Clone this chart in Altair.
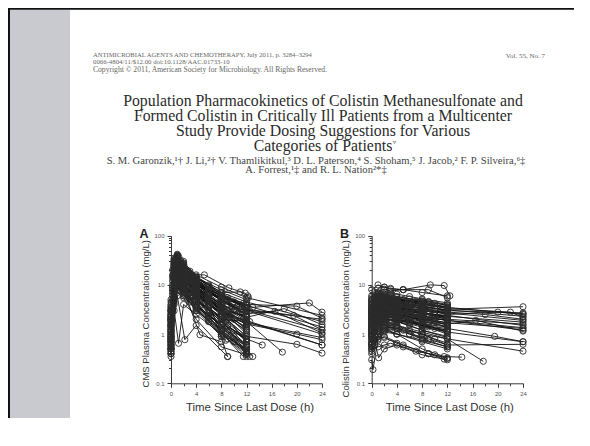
import altair as alt
import pandas as pd

W, H = 566, 410

# ---------------- text content ----------------
journal_line = "ANTIMICROBIAL AGENTS AND CHEMOTHERAPY, July 2011, p. 3284–3294"
issn_line = "0066-4804/11/$12.00    doi:10.1128/AAC.01733-10"
copyright_line = "Copyright © 2011, American Society for Microbiology. All Rights Reserved."
volume_text = "Vol. 55, No. 7"
title_text = ("Population Pharmacokinetics of Colistin Methanesulfonate and\n"
              "Formed Colistin in Critically Ill Patients from a Multicenter\n"
              "Study Provide Dosing Suggestions for Various\n"
              "Categories of Patients")
title_mark = "▿"
author_line1 = "S. M. Garonzik,¹† J. Li,²† V. Thamlikitkul,³ D. L. Paterson,⁴ S. Shoham,⁵ J. Jacob,² F. P. Silveira,⁶‡"
author_line2 = "A. Forrest,¹‡ and R. L. Nation²*‡"
panel_letters = ["A", "B"]
y_titles = ["CMS Plasma Concentration (mg/L)", "Colistin Plasma Concentration (mg/L)"]
x_title = "Time Since Last Dose (h)"

# ---------------- axis ticks ----------------
y_tick_values = [0.1, 0.2, 0.3, 0.4, 0.5, 0.6, 0.7, 0.8, 0.9,
                 1, 2, 3, 4, 5, 6, 7, 8, 9,
                 10, 20, 30, 40, 50, 60, 70, 80, 90, 100]
x_tick_values = [0, 2, 4, 6, 8, 10, 12, 14, 16, 18, 20, 22, 24]

# ---------------- data: (time h, concentration mg/L) per patient ----------------
cms_profiles = [
    [(0, 1.2), (0.5, 18), (1, 35), (2, 22), (4, 12), (8, 5), (12, 2.5)],
    [(0, 0.8), (0.5, 25), (1, 40), (1.5, 30), (3, 15), (6, 6), (9, 3), (12, 1.5)],
    [(0, 0.4), (0.3, 8), (1, 28), (2, 16), (4, 8), (8, 2.5), (12, 0.9)],
    [(0, 2.5), (0.5, 30), (1.2, 38), (2.5, 20), (3.3, 16), (5.3, 16), (9.2, 8.7), (11.8, 6.8), (12.3, 5.5)],
    [(0, 1.5), (0.5, 12), (1, 20), (2, 14), (4, 9), (8, 4), (12, 2)],
    [(0, 0.6), (1, 15), (2, 10), (4, 5), (8, 1.8), (12, 0.6)],
    [(0, 3), (0.5, 22), (1, 30), (2, 25), (3, 16), (6, 10), (9, 5), (12, 3.5)],
    [(0, 0.45), (0.5, 3), (1.2, 0.65), (2, 4), (4, 2.5), (8, 1.0), (12, 0.5)],
    [(0, 0.6), (1, 6), (2.2, 0.77), (4, 1.5), (9, 0.35)],
    [(0, 4), (0.5, 35), (1, 42), (2, 30), (4, 14), (8, 7), (12, 4.5), (24, 1.8)],
    [(0, 2), (0.3, 15), (1, 24), (2, 18), (4, 10), (8, 5), (12.5, 3), (24, 1.2)],
    [(0, 1.8), (0.5, 20), (1, 32), (2, 20), (4, 12), (8, 6), (12, 4), (20, 3.7), (24, 2.1)],
    [(0, 1.5), (1, 28), (2, 18), (4, 10), (8, 5.5), (13, 3.5), (22, 4.3), (24, 2.8)],
    [(0, 0.9), (1, 22), (2, 15), (4, 8), (9, 3), (12, 2.2), (18, 3.3), (24, 1.55)],
    [(0, 0.7), (0.5, 14), (1, 18), (2, 12), (5, 6), (9, 2.5), (12.5, 1.8), (24, 0.6)],
    [(0, 0.5), (1, 12), (2, 9), (4, 5), (8, 2), (12, 1.8), (17.7, 0.43)],
    [(0, 0.4), (1, 10), (2, 7), (4, 4), (8, 1.5), (12, 0.8), (14.5, 0.6)],
    [(0, 1.1), (1, 25), (2, 17), (4, 9), (8, 4), (12, 2.6), (16.5, 2.9), (24, 1.05)],
    [(0, 2.2), (0.5, 28), (1, 36), (2, 24), (4, 13), (8, 6), (12, 3.2), (19.5, 2.4), (24, 1.22)],
    [(0, 0.8), (1, 16), (2, 11), (4, 6), (8, 2.8), (12, 1.6), (20, 1.0), (24, 0.77)],
    [(0, 0.5), (1, 9), (2, 6), (4, 3.5), (8, 1.6), (12, 0.9), (20, 0.62), (24, 0.41)],
    [(0, 1.3), (0.5, 16), (1, 26), (2, 19), (4, 11), (8, 5), (11, 3.2), (24, 2.0)],
    [(0, 0.35), (0.5, 6), (1, 13), (2, 8), (4, 3.5), (8.5, 0.9), (11.5, 0.35)],
    [(0, 0.7), (0.5, 20), (1, 26), (2, 17), (4, 8), (6, 4.5), (9, 0.35)],
    [(0, 1.0), (1, 19), (2, 13), (3, 8), (5, 4), (8, 2), (12.5, 0.35)],
    [(0, 0.9), (0.5, 14), (1, 21), (2, 14), (4, 6), (8, 1.5), (12, 0.4)],
    [(0, 1.6), (0.5, 24), (1, 33), (2, 20), (4, 9), (8, 3.5), (12, 1.2)],
    [(0, 2.8), (0.5, 27), (1, 31), (2, 21), (4, 11), (8, 6), (11.5, 4.2)],
    [(0, 3.5), (0.5, 26), (1, 37), (2, 26), (4, 15), (8, 7), (11, 7.2), (12.2, 6)],
    [(0, 0.5), (0.5, 10), (1, 17), (2, 12), (4.5, 4.5), (8, 1.3), (12, 0.55)],
    [(0, 1.2), (1, 11), (2, 8), (4.6, 0.97), (8, 0.7)],
    [(0, 0.55), (0.5, 4), (1, 7), (2, 5.5), (4, 2), (8, 0.55), (12, 0.38)],
    [(0, 2), (0.5, 16), (1, 23), (2, 16), (4, 8.5), (6, 5.5), (8, 3.5)],
    [(0, 1.4), (0.5, 12), (1, 18), (2, 11), (4, 5), (8, 1.8)],
    [(0, 0.9), (0.5, 8), (1, 11), (2, 7), (4, 3), (8, 0.9)],
    [(0, 3.2), (0.5, 20), (1, 29), (2, 19), (4, 10), (8, 5.5), (8.8, 4.8)],
    [(0, 2.2), (0.5, 30), (1, 33), (2, 23), (3, 14), (5, 7), (9, 2.4), (12, 1.0)],
    [(0, 0.65), (0.3, 4), (1, 9), (2, 6), (4, 3), (8, 1.2), (12, 0.5), (13, 0.35)],
    [(0, 1.7), (1, 24), (2, 15), (4, 7), (9, 2), (12, 0.7)],
    [(0, 0.45), (0.5, 7), (1, 12), (1.5, 10), (3, 5), (6, 2.2), (9, 0.8), (12, 0.35)],
    [(0, 2.6), (0.5, 33), (1, 39), (2, 27), (4, 13), (8, 5), (12, 2.2)],
    [(0, 1.9), (0.5, 21), (1, 27), (2, 18), (4, 10), (9, 4), (12, 2.4)],
    [(0, 1.1), (0.5, 11), (1, 16), (2, 13), (4, 7), (8, 3), (12, 1.1)],
    [(0, 0.75), (0.5, 5), (1, 8), (2, 9), (4, 5), (8, 2.2), (12, 0.8)],
    [(0, 3.8), (0.5, 24), (1, 28), (2, 22), (4, 14), (8, 8), (12, 5)],
    [(0, 2.4), (0.5, 13), (1, 19), (2, 15), (3, 12), (6, 7), (9, 4), (12, 2.9)],
    [(0, 5), (0.5, 30), (1, 40), (2, 28), (4, 16), (8, 9), (12, 5.5), (24, 2.4)],
    [(0, 1.0), (0.25, 12), (0.5, 24), (0.75, 30), (1, 28), (1.5, 22), (2, 18), (3, 12), (4, 8.5), (6, 5), (8, 3), (10, 2), (12, 1.3)],
    [(0, 2.0), (0.25, 16), (0.5, 28), (0.75, 34), (1, 31), (1.5, 25), (2, 20), (3, 14), (4, 10), (6, 6.5), (8, 4.2), (10, 2.8), (12, 2.0)],
    [(0, 0.5), (0.25, 5), (0.5, 11), (0.75, 15), (1, 14), (1.5, 11), (2, 9), (3, 6), (4, 4), (6, 2.2), (8, 1.2), (10, 0.7), (12, 0.45)],
    [(0, 3), (0.25, 14), (0.5, 22), (1, 26), (1.5, 23), (2, 19), (3, 15), (4, 12), (6, 8), (8, 6), (10, 4.5), (12, 3.4)],
    [(0, 0.8), (0.25, 7), (0.5, 16), (1, 20), (1.5, 16), (2, 12), (3, 7.5), (4, 5), (6, 2.6), (8, 1.5), (10, 0.9), (12, 0.55)],
    [(0, 1.4), (0.5, 19), (0.75, 26), (1, 25), (1.5, 20), (2, 16), (3, 11), (4, 7.5), (6, 4), (8, 2.4), (12, 0.9)],
    [(0, 0.6), (0.25, 3), (0.5, 8), (1, 12), (1.5, 10), (2, 8), (3, 5.5), (4, 4), (6, 2.4), (9, 1.1), (12, 0.6)],
    [(0, 2.5), (0.5, 21), (1, 29), (1.5, 27), (2, 22), (3, 17), (4, 13), (6, 9), (9, 5.5), (12, 3.5)],
    [(0, 1.8), (0.25, 9), (0.5, 17), (1, 22), (2, 15), (3, 10), (4, 7), (6, 4), (8, 2.6), (12, 1.4)],
    [(0, 4.5), (0.25, 20), (0.5, 32), (1, 38), (1.5, 32), (2, 26), (3, 19), (4, 14), (6, 9.5), (8, 6.5), (12, 4)],
    [(0, 0.4), (0.5, 4.5), (1, 9), (1.5, 8), (2, 6.5), (3, 4.5), (4, 3.2), (6, 1.8), (8, 1.0), (12, 0.4)],
    [(0, 1.2), (0.25, 8), (0.5, 15), (1, 19), (2, 14), (3, 10), (4, 7), (6, 4.5), (8, 3), (12, 1.6)],
    [(0, 2.2), (0.5, 14), (1, 18), (2, 15), (3, 12), (4, 9), (6, 6), (8, 4), (10, 3), (12, 2.2)],
    [(0, 0.7), (0.25, 6), (0.5, 13), (1, 17), (1.5, 14), (2, 11), (3, 7), (4, 5), (6, 3), (9, 1.4), (12, 0.8)],
    [(0, 1.6), (0.5, 26), (1, 30), (2, 20), (3, 13), (4, 9), (6, 5), (8, 3.2), (9, 2.6)],
    [(0, 0.9), (0.5, 9), (1, 13), (2, 10), (3, 7), (4, 5.5), (6, 3.5), (8, 2.2), (8.8, 1.9)],
    [(0, 3.5), (0.5, 18), (1, 24), (2, 19), (3, 14), (4, 11), (6, 7), (8, 5), (8.5, 4.6)],
    [(0, 0.5), (0.5, 6), (1, 10), (2, 7.5), (3, 5), (4, 3.4), (6, 1.8), (8, 0.9), (8.7, 0.75)],
    [(0, 1.3), (0.5, 10), (1, 14), (2, 12), (3, 9), (4, 6.5), (6, 4), (8, 2.6), (9, 2.1), (12, 1.2)],
    [(0, 2.9), (0.5, 23), (1, 27), (2, 20), (3, 15), (4, 11), (6, 7.5), (8, 5), (12, 2.6)],
    [(0, 0.65), (0.5, 11), (1, 16), (2, 11), (3, 7), (4, 4.5), (6, 2.3), (8, 1.2), (12, 0.45)],
    [(0, 1.9), (0.25, 10), (0.5, 20), (1, 25), (2, 19), (3, 13), (4, 9.5), (6, 6), (8, 3.8), (11.5, 2.0)],
    [(0, 0.85), (0.5, 13), (1, 22), (1.5, 19), (2, 15), (3, 10), (4, 6.5), (6, 3.5), (8, 2), (12, 0.7)],
    [(0, 1.1), (0.5, 7), (1, 10), (2, 8.5), (3, 7), (4, 5.8), (6, 4), (8, 3), (12, 1.8), (24, 0.6)],
    [(0, 2.3), (0.5, 17), (1, 21), (2, 17), (3, 13), (4, 10), (6, 7), (8, 5), (12, 3), (24, 1.0)],
    [(0, 0.55), (0.5, 9), (1, 14), (2, 9), (3, 6), (4, 4), (6, 2), (8, 1.1), (12, 0.42)],
    [(0, 1.5), (0.5, 15), (1, 19), (2, 14), (4, 8), (6, 5), (8, 3.3), (12, 1.7), (24, 0.85)],
    [(0, 3.1), (0.5, 15), (1, 22), (2, 18), (4, 11), (6, 8), (9, 5), (12, 3.8), (24, 1.4)],
    [(0, 0.75), (0.25, 3.5), (0.5, 7), (1, 10), (2, 7.5), (4, 4), (6, 2.4), (8, 1.5), (12, 0.6)],
    [(0, 1.0), (0.5, 17), (1, 24), (2, 16), (4, 7), (6, 3.6), (9, 1.5), (12, 0.75)],
    [(0, 2.0), (0.5, 11), (1, 15), (2, 12), (4, 7.5), (6, 5), (9, 3), (12, 2.3)],
]

colistin_profiles = [
    [(0, 8.0), (1, 10), (2, 9), (3, 8.2), (5, 8.0), (9.3, 10), (11.5, 9.7), (12.4, 6.0)],
    [(0, 5), (1, 7), (2, 8.2), (3, 7.5), (5, 8), (9, 8), (12, 5.5)],
    [(0, 2), (0.5, 2.5), (1, 3.5), (2, 4), (4, 3.5), (8, 2.8), (12, 2.2)],
    [(0, 1.2), (0.5, 1.8), (1, 2.5), (2, 2.8), (4, 2.2), (8, 1.6), (12, 1.1)],
    [(0, 0.3), (0.2, 0.19), (1, 0.8), (2, 1.2), (4, 1), (8, 0.7), (12, 0.5)],
    [(0, 0.6), (0.5, 1.5), (1, 2.2), (2, 2.5), (4, 2), (8, 1.5), (12, 1.0)],
    [(0, 3), (0.5, 4), (1, 5), (2, 5.5), (4, 5), (8, 4.5), (12, 3.5), (24, 2.5)],
    [(0, 2.5), (1, 3), (2, 3.2), (4, 2.8), (8, 2.4), (12, 3.2), (24, 3.6)],
    [(0, 1.5), (1, 2), (2, 2.4), (4, 2.6), (8, 2.0), (12, 2.0), (24, 1.6)],
    [(0, 1.0), (1, 1.5), (2, 1.7), (4, 1.5), (8, 1.1), (12, 0.8), (17.7, 0.28)],
    [(0, 0.9), (1, 1.2), (2, 1.3), (4, 1.0), (8, 0.5), (11.5, 0.35), (14.3, 0.34)],
    [(0, 0.7), (1, 0.9), (2, 0.85), (4, 0.65), (9, 0.4), (11.5, 0.31)],
    [(0, 1.3), (1.1, 0.33), (2, 0.5), (4, 0.6), (8, 0.38), (12, 0.3)],
    [(0, 4.5), (0.5, 5.5), (1, 6.5), (2, 6), (4, 5.5), (8, 5), (12, 4)],
    [(0, 2.2), (0.5, 3), (1, 4), (2, 4.6), (4, 4), (8, 3.2), (12, 2.5), (20, 2.8), (24, 2.6)],
    [(0, 1.7), (1, 2.2), (2, 2.6), (4, 2.4), (8, 2), (12, 1.7), (24, 1.3)],
    [(0, 3.5), (1, 4.5), (2, 5), (4, 4.8), (8, 4), (12, 3.3), (22, 2.8), (24, 2.2)],
    [(0, 1.1), (1, 1.6), (2, 2), (4, 1.9), (8, 1.5), (12, 1.3), (19.5, 0.9), (24, 0.7)],
    [(0, 0.8), (1, 1.1), (2, 1.4), (4, 1.3), (8, 1.0), (12, 0.8), (24, 0.45)],
    [(0, 2.8), (1, 3.8), (2, 4.2), (4, 4.0), (8, 3.4), (12, 2.8), (18, 2.5), (24, 2.0)],
    [(0, 1.4), (1, 2.0), (2, 2.2), (4, 2.3), (8, 1.8), (12, 1.6), (16.5, 1.9), (24, 1.15)],
    [(0, 2.0), (1, 2.8), (3, 3.0), (5, 3.2), (9, 2.6), (12, 2.4), (24, 1.5)],
    [(0, 0.5), (0.5, 0.9), (1, 1.3), (2, 1.6), (4, 1.4), (8, 1.0), (12, 0.6), (24, 0.62)],
    [(0, 6), (0.5, 7), (1, 8.5), (2, 9), (3, 8.5), (5, 8), (8, 7), (12, 6)],
    [(0, 1.6), (0.5, 2.8), (1, 3.8), (2, 4.2), (4, 3.8), (6, 3.0), (8, 2.5)],
    [(0, 0.9), (0.5, 2), (1, 2.6), (2, 2.9), (4, 2.5), (8, 1.9)],
    [(0, 3.2), (0.5, 4.2), (1, 5.2), (2, 5.6), (4, 5), (8, 4.2), (12, 3.6)],
    [(0, 2.4), (0.5, 3.5), (1, 4.4), (2, 4.0), (5, 3.4), (9, 2.9), (12, 2.6)],
    [(0, 1.2), (0.5, 2.0), (1, 2.4), (3, 2.6), (5, 2.2), (9, 1.4), (12, 1.2)],
    [(0, 0.6), (0.5, 1.0), (1, 1.8), (2, 2.1), (4, 1.8), (8, 1.2), (12, 0.85)],
    [(0, 4), (1, 5.5), (2, 6), (3, 5.8), (5, 5), (9, 4.6), (12, 3.8)],
    [(0, 1.9), (0.5, 2.4), (1, 3.2), (2, 3.6), (4, 3.2), (8, 2.6), (12, 2.0)],
    [(0, 0.45), (0.5, 0.6), (1, 1.0), (2, 1.1), (4, 1.0), (8, 0.75), (12, 0.55)],
    [(0, 2.6), (1, 3.4), (2, 3.9), (4, 3.7), (8, 3.0), (12, 2.7), (24, 1.9)],
    [(0, 1.0), (0.5, 1.4), (1, 1.9), (2, 2.3), (4, 2.0), (8, 1.6), (12, 1.4)],
    [(0, 3.8), (0.5, 4.8), (1, 5.8), (2, 5.0), (4, 4.5), (8, 3.8), (12, 3.0), (24, 2.7)],
    [(0, 0.65), (1, 0.75), (2, 0.9), (5, 0.6), (9, 0.4), (12, 0.33)],
    [(0, 1.4), (0.5, 2.2), (1, 2.9), (2, 3.2), (4, 2.9), (8, 2.2), (12, 1.9), (24, 1.35)],
    [(0, 2.0), (0.25, 2.6), (0.5, 3.2), (1, 3.8), (1.5, 4.0), (2, 4.1), (3, 3.8), (4, 3.6), (6, 3.2), (8, 2.8), (10, 2.4), (12, 2.1)],
    [(0, 1.0), (0.25, 1.3), (0.5, 1.7), (1, 2.1), (1.5, 2.3), (2, 2.4), (3, 2.3), (4, 2.1), (6, 1.8), (8, 1.5), (10, 1.3), (12, 1.1)],
    [(0, 3.0), (0.25, 3.6), (0.5, 4.3), (1, 5.0), (1.5, 5.3), (2, 5.2), (3, 4.9), (4, 4.6), (6, 4.1), (8, 3.7), (10, 3.3), (12, 3.0)],
    [(0, 0.55), (0.25, 0.8), (0.5, 1.1), (1, 1.5), (1.5, 1.7), (2, 1.8), (3, 1.7), (4, 1.5), (6, 1.2), (8, 1.0), (10, 0.8), (12, 0.65)],
    [(0, 1.6), (0.25, 2.0), (0.5, 2.6), (1, 3.1), (1.5, 3.3), (2, 3.3), (3, 3.1), (4, 2.9), (6, 2.5), (8, 2.2), (10, 1.9), (12, 1.7)],
    [(0, 4.2), (0.5, 5.2), (1, 5.9), (1.5, 6.1), (2, 5.8), (3, 5.4), (4, 5.0), (6, 4.5), (8, 4.1), (10, 3.7), (12, 3.4)],
    [(0, 0.8), (0.5, 1.3), (1, 1.9), (1.5, 2.2), (2, 2.1), (3, 2.0), (4, 1.8), (6, 1.5), (8, 1.2), (12, 0.9)],
    [(0, 2.6), (0.5, 3.1), (1, 3.5), (2, 3.7), (3, 3.5), (4, 3.3), (6, 3.0), (8, 2.7), (10, 2.5), (12, 2.3)],
    [(0, 1.3), (0.5, 1.6), (1, 2.0), (2, 2.3), (3, 2.5), (4, 2.6), (6, 2.4), (8, 2.1), (10, 1.8), (12, 1.5)],
    [(0, 0.4), (0.5, 0.6), (1, 0.9), (2, 1.2), (3, 1.3), (4, 1.2), (6, 1.0), (8, 0.8), (12, 0.55)],
    [(0, 3.5), (0.5, 3.9), (1, 4.5), (2, 4.8), (3, 4.6), (4, 4.4), (6, 4.0), (8, 3.6), (12, 3.1)],
    [(0, 1.8), (0.5, 2.3), (1, 2.8), (2, 3.0), (3, 2.9), (4, 2.7), (6, 2.3), (8, 2.0), (12, 1.6)],
    [(0, 5.5), (0.5, 6.0), (1, 6.8), (2, 7.2), (3, 6.9), (4, 6.5), (6, 5.8), (8, 5.2), (12, 4.3)],
    [(0, 0.95), (0.5, 1.2), (1, 1.5), (2, 1.9), (3, 2.0), (4, 1.9), (6, 1.7), (8, 1.5), (12, 1.2)],
    [(0, 2.3), (0.5, 2.8), (1, 3.4), (2, 3.9), (3, 4.1), (4, 4.2), (6, 3.8), (8, 3.3), (12, 2.7)],
    [(0, 1.1), (0.5, 1.8), (1, 2.4), (2, 2.7), (3, 2.5), (4, 2.3), (6, 1.9), (8, 1.6), (9, 1.5)],
    [(0, 2.8), (0.5, 3.3), (1, 3.8), (2, 4.4), (3, 4.3), (4, 4.0), (6, 3.4), (8, 3.0), (8.8, 2.9)],
    [(0, 0.7), (0.5, 1.0), (1, 1.3), (2, 1.5), (3, 1.4), (4, 1.3), (6, 1.0), (8, 0.85), (9, 0.75)],
    [(0, 4.8), (0.5, 5.5), (1, 6.2), (2, 6.5), (3, 6.2), (4, 5.8), (6, 5.2), (8, 4.7), (9, 4.5)],
    [(0, 1.5), (1, 2.3), (2, 2.9), (3, 3.1), (4, 3.0), (6, 2.7), (8, 2.4), (10, 2.1), (12, 1.9), (24, 1.2)],
    [(0, 2.1), (1, 3.0), (2, 3.4), (3, 3.5), (4, 3.3), (6, 3.0), (8, 2.7), (12, 2.3), (24, 1.75)],
    [(0, 0.85), (1, 1.4), (2, 1.8), (3, 1.9), (4, 1.8), (6, 1.6), (8, 1.4), (12, 1.1), (24, 0.7)],
    [(0, 3.3), (1, 4.2), (2, 4.6), (3, 4.5), (4, 4.3), (6, 3.9), (8, 3.6), (12, 3.1), (24, 2.3)],
    [(0, 1.2), (0.5, 1.5), (1, 2.1), (2, 2.6), (3, 2.7), (5, 2.5), (7, 2.1), (9, 1.8), (12, 1.4)],
    [(0, 2.5), (0.5, 2.9), (1, 3.5), (2, 3.3), (3, 3.0), (5, 2.8), (7, 2.5), (9, 2.2), (12, 1.9)],
    [(0, 0.6), (0.5, 0.75), (1, 1.0), (2, 1.3), (3, 1.4), (5, 1.2), (7, 0.95), (9, 0.8), (12, 0.6)],
    [(0, 1.9), (0.5, 2.7), (1, 3.4), (2, 3.8), (3, 3.6), (5, 3.2), (7, 2.8), (9, 2.5), (12, 2.0)],
    [(0, 4.0), (0.5, 4.6), (1, 5.0), (2, 5.3), (3, 5.1), (5, 4.7), (7, 4.3), (9, 4.0), (12, 3.5)],
    [(0, 1.4), (0.5, 1.9), (1, 2.6), (2, 3.0), (3, 2.8), (5, 2.4), (7, 2.0), (9, 1.7), (12, 1.4)],
    [(0, 3.0), (1, 3.3), (2, 3.5), (3, 3.2), (5, 3.0), (7, 2.7), (10, 2.4), (12, 2.2)],
    [(0, 0.5), (1, 0.55), (2, 0.6), (3, 0.65), (5, 0.55), (7, 0.45), (10, 0.38), (12, 0.32)],
    [(0, 5.0), (1, 4.0), (2, 4.8), (3, 5.5), (5, 5.0), (7, 4.6), (10, 4.2), (12, 3.9)],
]


def to_frame(profiles):
    rows = []
    for pid, prof in enumerate(profiles):
        for t, c in prof:
            rows.append({"pid": pid, "t": t, "c": c})
    return pd.DataFrame(rows)


MAJ_Y = "abs(log(datum.value)/LN10 - round(log(datum.value)/LN10)) < 0.001"
MAJ_X = "datum.value % 4 == 0"
AX_COLOR = "#3a3a3a"


def panel(df, x_range, y_range, ytitle, ytitle_y, xtitle_shift):
    x_enc = alt.X(
        "t:Q",
        scale=alt.Scale(domain=[0, 24], range=x_range, nice=False, zero=False),
        axis=alt.Axis(
            orient="bottom", offset=y_range[0] - H, values=x_tick_values,
            labelExpr=f"{MAJ_X} ? datum.label : ''", labelOverlap=False, labelFlush=False,
            tickSize={"condition": {"test": MAJ_X, "value": 4}, "value": 2.5},
            tickColor=AX_COLOR, domainColor=AX_COLOR, grid=False,
            labelFont="Liberation Sans", labelFontSize=6, labelColor="#555", labelPadding=3,
            title=x_title, titleFont="Liberation Sans", titleFontSize=11.4, titleFontWeight="normal",
            titleColor="#333", titleX=(x_range[0] + x_range[1]) / 2 + xtitle_shift, titleY=18,
            titleBaseline="top",
        ),
    )
    y_enc = alt.Y(
        "c:Q",
        scale=alt.Scale(type="log", domain=[0.1, 100], range=y_range, nice=False),
        axis=alt.Axis(
            orient="left", offset=-x_range[0], values=y_tick_values,
            labelExpr=f"{MAJ_Y} ? format(datum.value, '~g') : ''", labelOverlap=False, labelFlush=False,
            tickSize={"condition": {"test": MAJ_Y, "value": 4}, "value": 2.5},
            tickColor=AX_COLOR, domainColor=AX_COLOR, grid=False,
            labelFont="Liberation Sans", labelFontSize=6, labelColor="#555", labelPadding=3,
            title=ytitle, titleFont="Liberation Sans", titleFontSize=9.5, titleFontWeight="normal",
            titleColor="#333", titleX=-21, titleY=ytitle_y, titleAngle=270,
        ),
    )
    lines = alt.Chart(df).mark_line(color="#111", strokeWidth=0.9).encode(
        x=x_enc, y=y_enc, detail="pid:N", order="t:Q")
    pts = alt.Chart(df).mark_point(shape="circle", filled=False, size=38, color="#2a2a2a",
                                   strokeWidth=0.9, opacity=1).encode(x=x_enc, y=y_enc)
    return alt.layer(lines, pts)


one = pd.DataFrame({"k": [0]})

band = alt.Chart(one).mark_rect(color="#c9c9d0").encode(
    x=alt.value(2), x2=alt.value(62), y=alt.value(1.5), y2=alt.value(H))
left_bar = alt.Chart(one).mark_rect(color="#111").encode(
    x=alt.value(0), x2=alt.value(2), y=alt.value(0), y2=alt.value(H))
top_bar = alt.Chart(one).mark_rect(color="#111").encode(
    x=alt.value(0), x2=alt.value(W), y=alt.value(0), y2=alt.value(1.8))


def text_layer(txt, x, y, size, font="Liberation Serif", color="#333", align="left",
               weight="normal", line_height=None):
    kw = dict(font=font, fontSize=size, color=color, align=align, baseline="alphabetic",
              fontWeight=weight, lineBreak="\n")
    if line_height is not None:
        kw["lineHeight"] = line_height
    return alt.Chart(pd.DataFrame({"txt": [txt]})).mark_text(**kw).encode(
        text="txt:N", x=alt.value(x), y=alt.value(y))


header1 = text_layer(journal_line, 85, 48.5, 6.6, color="#666")
header2 = text_layer(issn_line, 85, 56, 6.8, color="#666")
header3 = text_layer(copyright_line, 85, 63.5, 7.6, color="#666")
volume = text_layer(volume_text, 537, 50, 7, color="#666", align="right")
title = text_layer(title_text, 315, 98, 15.8, color="#2a2a2a", align="center", line_height=15)
title_sup = text_layer(title_mark, 385, 136, 6, color="#2a2a2a")
authors1 = text_layer(author_line1, 308, 155.5, 10.6, color="#444", align="center")
authors2 = text_layer(author_line2, 308, 165, 10.6, color="#444", align="center")
letter_a = text_layer(panel_letters[0], 136, 230, 12.5, font="Liberation Sans", color="#222",
                      align="center", weight="bold")
letter_b = text_layer(panel_letters[1], 336.5, 230, 12.5, font="Liberation Sans", color="#222",
                      align="center", weight="bold")

panel_a = panel(to_frame(cms_profiles), [163, 314], [375.3, 227.7], y_titles[0], 305.3, 3)
panel_b = panel(to_frame(colistin_profiles), [363.7, 515], [375.3, 227.7], y_titles[1], 310.3, 2)

chart = alt.layer(
    band, left_bar, top_bar, header1, header2, header3, volume, title, title_sup,
    authors1, authors2, letter_a, letter_b, panel_a, panel_b,
).resolve_scale(x="independent", y="independent").resolve_axis(
    x="independent", y="independent"
).properties(
    width=W, height=H, autosize=alt.AutoSizeParams(type="none"), padding=0, background="white"
).configure_view(strokeWidth=0)

chart.save("out.html", embed_options={"renderer": "svg", "actions": False})
